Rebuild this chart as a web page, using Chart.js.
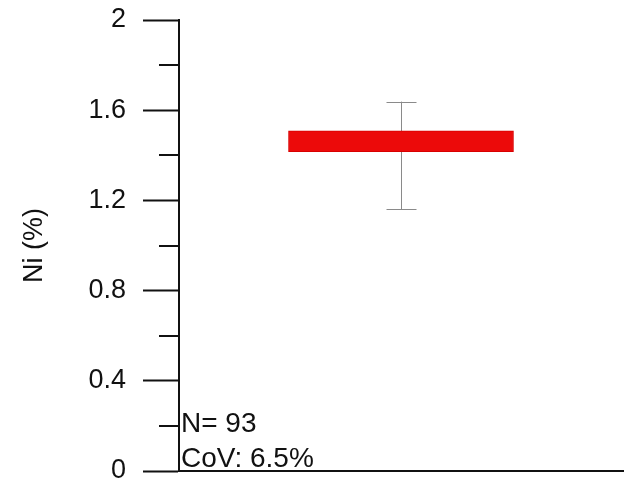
<!DOCTYPE html>
<html>
<head>
<meta charset="utf-8">
<script src="https://cdn.jsdelivr.net/npm/chart.js@4/dist/chart.umd.min.js"></script>
<style>
  html, body { margin: 0; padding: 0; background: #fff; }
  #wrap { width: 625px; height: 485px; position: relative; }
</style>
</head>
<body>
<div id="wrap"><canvas id="c"></canvas></div>
<script>
// Ni grade summary: central band and spread
const categories = ['Ni'];
const bandLow = [1.416];
const bandHigh = [1.509];
const spreadLow = [1.160];
const spreadHigh = [1.638];
const statLines = ['N= 93', 'CoV: 6.5%'];
const yTicks = [0, 0.2, 0.4, 0.6, 0.8, 1.0, 1.2, 1.4, 1.6, 1.8, 2.0];
const yMajorLabels = ['0', '0.4', '0.8', '1.2', '1.6', '2'];

const FONT = '"Liberation Sans", Arial, Helvetica, sans-serif';
const AXIS_LEFT = 179;
const PAD_LEFT = 8;

// whisker behind the band
const spreadPlugin = {
  id: 'spread',
  beforeDatasetsDraw(chart) {
    const y = chart.scales.y;
    const meta = chart.getDatasetMeta(0);
    const ctx = chart.ctx;
    ctx.save();
    ctx.strokeStyle = '#8a8a8a';
    ctx.lineWidth = 1;
    meta.data.forEach((bar, i) => {
      const x = Math.round(bar.x) + 0.5;
      const yt = y.getPixelForValue(spreadHigh[i]);
      const yb = y.getPixelForValue(spreadLow[i]);
      ctx.beginPath();
      ctx.moveTo(x, yt); ctx.lineTo(x, yb);
      ctx.moveTo(x - 15, Math.round(yt) + 0.5); ctx.lineTo(x + 15, Math.round(yt) + 0.5);
      ctx.moveTo(x - 15, Math.round(yb) + 0.5); ctx.lineTo(x + 15, Math.round(yb) + 0.5);
      ctx.stroke();
    });
    ctx.restore();
  }
};

// short minor ticks and the sample statistics text
const extrasPlugin = {
  id: 'extras',
  afterDraw(chart) {
    const y = chart.scales.y;
    const area = chart.chartArea;
    const ctx = chart.ctx;
    ctx.save();
    ctx.strokeStyle = '#111';
    ctx.lineWidth = 2;
    y.ticks.forEach((t, i) => {
      if (i % 2 === 1) {
        const py = Math.round(y.getPixelForValue(t.value));
        ctx.beginPath();
        ctx.moveTo(area.left - 20, py);
        ctx.lineTo(area.left, py);
        ctx.stroke();
      }
    });
    ctx.fillStyle = '#111';
    ctx.font = '28px ' + FONT;
    ctx.textAlign = 'left';
    ctx.textBaseline = 'alphabetic';
    ctx.fillText(statLines[0], area.left + 2, area.bottom - 39);
    ctx.fillText(statLines[1], area.left + 2, area.bottom - 4);
    ctx.restore();
  }
};

new Chart(document.getElementById('c'), {
  type: 'bar',
  data: {
    labels: categories,
    datasets: [{
      data: categories.map((c, i) => [bandLow[i], bandHigh[i]]),
      backgroundColor: '#ec0a0a',
      borderColor: '#d80000',
      borderWidth: 1,
      borderSkipped: false,
      barThickness: 225
    }]
  },
  options: {
    responsive: true,
    maintainAspectRatio: false,
    animation: false,
    layout: { padding: { top: 20, bottom: 14, left: PAD_LEFT, right: 2 } },
    plugins: { legend: { display: false }, tooltip: { enabled: false } },
    scales: {
      x: {
        type: 'category',
        grid: { display: false, drawTicks: false, tickLength: 0 },
        ticks: { display: false },
        border: { display: true, color: '#111', width: 2 },
        afterFit(scale) {
          scale.height = 0;
          scale.paddingLeft = 0;
          scale.paddingRight = 0;
        }
      },
      y: {
        min: 0,
        max: 2,
        afterBuildTicks(scale) {
          scale.ticks = yTicks.map(v => ({ value: v }));
        },
        afterFit(scale) {
          scale.width = AXIS_LEFT - PAD_LEFT;
          scale.paddingTop = 0;
          scale.paddingBottom = 0;
        },
        ticks: {
          padding: 17,
          color: '#111',
          font: { family: FONT, size: 27 },
          callback: (v, i) => (i % 2 === 0 ? yMajorLabels[i / 2] : '')
        },
        grid: {
          drawOnChartArea: false,
          tickLength: 36,
          tickWidth: 2,
          tickColor: c => (c.index % 2 === 0 ? '#111' : 'rgba(0,0,0,0)')
        },
        border: { display: true, color: '#111', width: 2 },
        title: {
          display: true,
          text: 'Ni (%)',
          color: '#111',
          font: { family: FONT, size: 27 },
          padding: { top: 10, bottom: 0 }
        }
      }
    }
  },
  plugins: [spreadPlugin, extrasPlugin]
});
</script>
</body>
</html>
